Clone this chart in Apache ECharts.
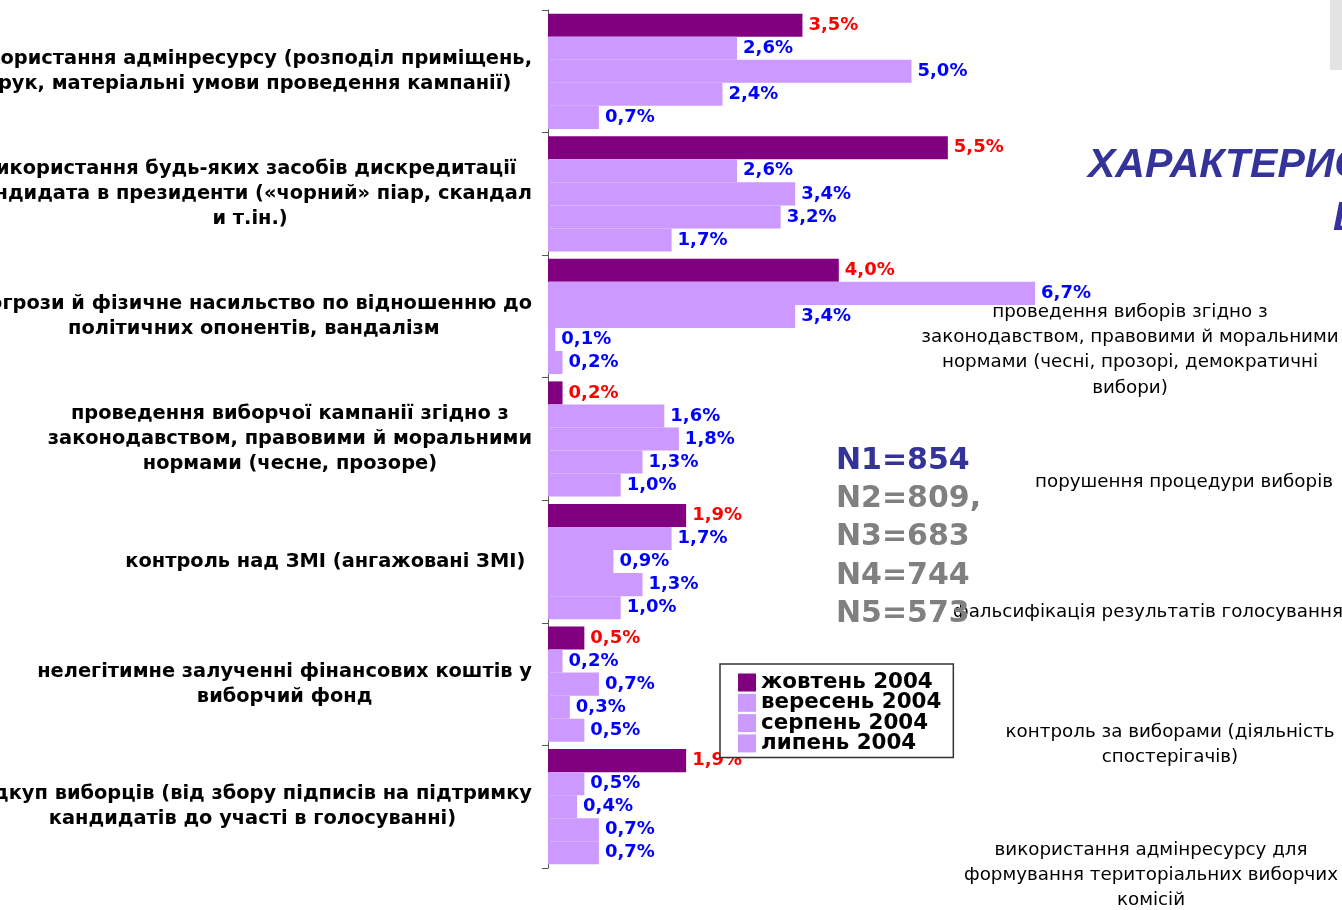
<!DOCTYPE html>
<html><head><meta charset="utf-8">
<script src="https://cdn.jsdelivr.net/npm/echarts@6/dist/echarts.min.js"></script>
<style>html,body{margin:0;padding:0;background:#fff;overflow:hidden}#c{width:1342px;height:910px;}</style>
</head><body><div id="c"></div>
<script>
// ---- data ----
const categories = [
  'використання адмінресурсу (розподіл приміщень,\nдрук, матеріальні умови проведення кампанії)',
  'використання будь-яких засобів дискредитації\nкандидата в президенти («чорний» піар, скандал\nи т.ін.)',
  'погрози й фізичне насильство по відношенню до\nполітичних опонентів, вандалізм',
  'проведення виборчої кампанії згідно з\nзаконодавством, правовими й моральними\nнормами (чесне, прозоре)',
  'контроль над ЗМІ (ангажовані ЗМІ) ',
  'нелегітимне залученні фінансових коштів у\nвиборчий фонд',
  'підкуп виборців (від збору підписів на підтримку\nкандидатів до участі в голосуванні)'
];
const seriesNames = ['жовтень 2004', 'вересень 2004', 'серпень 2004', 'липень 2004', 'червень 2004'];
const oct2004 = [3.5, 5.5, 4.0, 0.2, 1.9, 0.5, 1.9];
const sep2004 = [2.6, 2.6, 6.7, 1.6, 1.7, 0.2, 0.5];
const aug2004 = [5.0, 3.4, 3.4, 1.8, 0.9, 0.7, 0.4];
const jul2004 = [2.4, 3.2, 0.1, 1.3, 1.3, 0.3, 0.7];
const jun2004 = [0.7, 1.7, 0.2, 1.0, 1.0, 0.5, 0.7];
const sampleSizes = ['N1=854', 'N2=809,', 'N3=683', 'N4=744', 'N5=573'];
const titleLines = ['ХАРАКТЕРИСТИКА', 'В'];
const sideNotes = [
  'проведення виборів згідно з\nзаконодавством, правовими й моральними\nнормами (чесні, прозорі, демократичні\nвибори)',
  'порушення процедури виборів',
  'фальсифікація результатів голосування',
  'контроль за виборами (діяльність\nспостерігачів)',
  'використання адмінресурсу для\nформування територіальних виборчих\nкомісій'
];

// ---- chart ----
const chart = echarts.init(document.getElementById('c'), null, {renderer: 'canvas'});
const seriesData = [oct2004, sep2004, aug2004, jul2004, jun2004];
const colors = ['#800080', '#CC99FF', '#CC99FF', '#CC99FF', '#CC99FF'];
const labelColors = ['#FF0000', '#0000FF', '#0000FF', '#0000FF', '#0000FF'];
const fmt = v => v.toFixed(1).replace('.', ',') + '%';

const series = seriesData.map((d, i) => ({
  name: seriesNames[i],
  type: 'bar',
  data: d,
  barGap: '0%',
  barCategoryGap: '6%',
  itemStyle: {color: colors[i]},
  emphasis: {disabled: true},
  label: {
    show: true, position: 'right', distance: 4,
    formatter: p => fmt(p.value),
    color: labelColors[i],
    fontFamily: 'DejaVu Sans', fontWeight: 'bold', fontSize: 18,
    backgroundColor: '#fff', padding: [0, 2]
  }
}));

const sideNoteLayout = [
  {x: 1130, y: 312}, {x: 1184, y: 482}, {x: 1148, y: 612}, {x: 1170, y: 732}, {x: 1151, y: 850}
];
const graphics = [
  {type: 'rect', shape: {x: 1330, y: 0, width: 12, height: 70}, style: {fill: '#e3e3e3'}, silent: true},
  {type: 'text', x: 1088, y: 166, style: {text: titleLines[0], fill: '#333399', font: 'italic bold 41px "Liberation Sans"', align: 'left', verticalAlign: 'middle'}},
  {type: 'text', x: 1333, y: 219, style: {text: titleLines[1], fill: '#333399', font: 'italic bold 41px "Liberation Sans"', align: 'left', verticalAlign: 'middle'}}
];
sideNotes.forEach((t, i) => {
  graphics.push({type: 'text', x: sideNoteLayout[i].x, y: sideNoteLayout[i].y - 12.6,
    style: {text: t, fill: '#000', font: '18.3px "DejaVu Sans"', align: 'center', verticalAlign: 'top', lineHeight: 25.3}});
});
sampleSizes.forEach((t, i) => {
  graphics.push({type: 'text', x: 836, y: 461 + i * 38.3,
    style: {text: t, fill: i === 0 ? '#333399' : '#808080', font: 'bold 30px "DejaVu Sans"', align: 'left', verticalAlign: 'middle'}});
});

chart.setOption({
  animation: false,
  backgroundColor: '#fff',
  grid: {left: 548, top: 10, width: 581.6, height: 858, containLabel: false, outerBoundsMode: 'none'},
  xAxis: {type: 'value', min: 0, max: 8, show: false},
  yAxis: {
    type: 'category', data: categories, inverse: true,
    axisLine: {show: true, lineStyle: {color: '#555', width: 1}},
    axisTick: {show: true, length: 6, lineStyle: {color: '#555'}},
    axisLabel: {
      interval: 0, margin: 16, align: 'right',
      formatter: v => v.split('\n').map(l => '{c|' + l + '}').join('\n'),
      rich: {c: {align: 'center', fontFamily: 'DejaVu Sans', fontWeight: 'bold', fontSize: 19.4, color: '#000', lineHeight: 25}}
    },
    splitLine: {show: false}
  },
  legend: {
    data: seriesNames.slice(0, 4),
    orient: 'vertical', left: 720, top: 664,
    itemWidth: 18, itemHeight: 18, itemGap: -0.7,
    icon: 'rect',
    backgroundColor: '#fff', borderColor: '#333', borderWidth: 1.5,
    padding: [8, 12, 3.5, 18],
    textStyle: {fontFamily: 'DejaVu Sans', fontWeight: 'bold', fontSize: 21.4, color: '#000', lineHeight: 20},
    selectedMode: false
  },
  series: series,
  graphic: graphics
});
</script>
</body></html>
